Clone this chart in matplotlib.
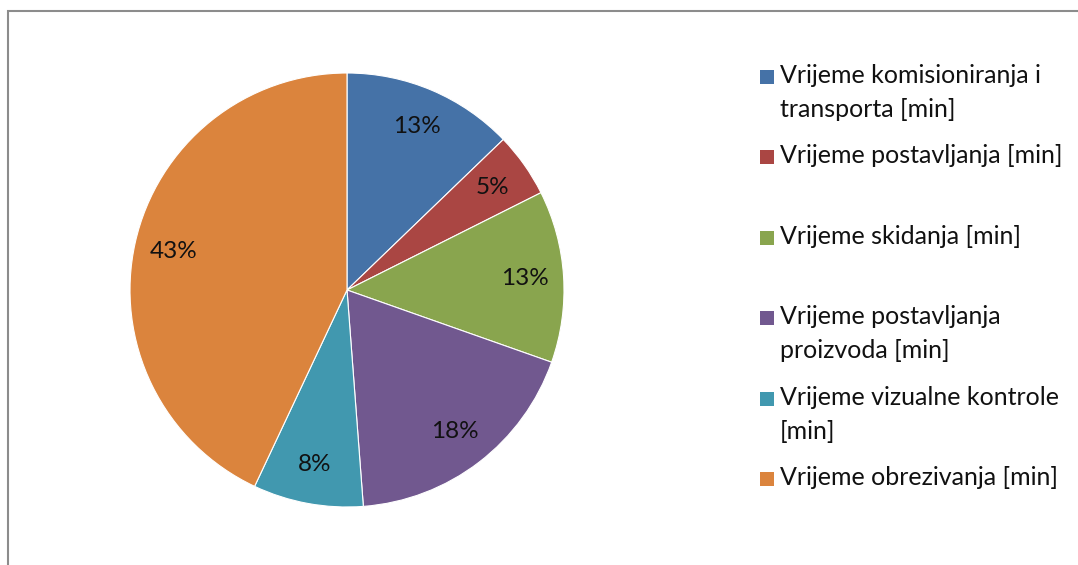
import matplotlib.pyplot as plt
from matplotlib.patches import Rectangle

# ---- data ----
labels = ['Vrijeme komisioniranja i\ntransporta [min]',
          'Vrijeme postavljanja [min]',
          'Vrijeme skidanja [min]',
          'Vrijeme postavljanja\nproizvoda [min]',
          'Vrijeme vizualne kontrole\n[min]',
          'Vrijeme obrezivanja [min]']
shares = [12.8, 4.8, 12.8, 18.4, 8.2, 43.0]
colors = ['#4572A7', '#AA4643', '#89A54E', '#71588F', '#4198AF', '#DB843D']

plt.rcParams['font.family'] = ['Lato', 'DejaVu Sans']
W, H = 1078, 565
fig = plt.figure(figsize=(W / 100, H / 100), dpi=100)

# chart frame
fig.patches.append(Rectangle((8 / W, -0.1), 1.2, 1 - 11 / H + 0.1, transform=fig.transFigure,
                             fill=False, edgecolor='#8c8c8c', linewidth=1.5))

# pie, centre (347,290) px, radius 217 px
cx, cy, r = 347, 290, 217
ax = fig.add_axes([(cx - r) / W, (H - cy - r) / H, 2 * r / W, 2 * r / H])
wedges, texts, autotexts = ax.pie(shares, colors=colors, startangle=90, counterclock=False,
                                  autopct='%.0f%%', pctdistance=0.82, radius=1,
                                  wedgeprops=dict(edgecolor='white', linewidth=0.8),
                                  textprops=dict(fontsize=17.5, color='#111111'))
ax.set_xlim(-1, 1)
ax.set_ylim(-1, 1)
ax.set_aspect('auto')
ax.axis('off')

# legend
top = 77
step = 80.4
for i, (lab, col) in enumerate(zip(labels, colors)):
    y = top + i * step
    fig.patches.append(Rectangle((760 / W, 1 - (y + 7) / H), 14 / W, 14 / H,
                                 transform=fig.transFigure, facecolor=col, edgecolor='none'))
    fig.text(780 / W, 1 - (y - 13) / H, lab, fontsize=18, va='top', ha='left',
             linespacing=1.58, color='#111111')

fig.savefig('out.png', dpi=100)
